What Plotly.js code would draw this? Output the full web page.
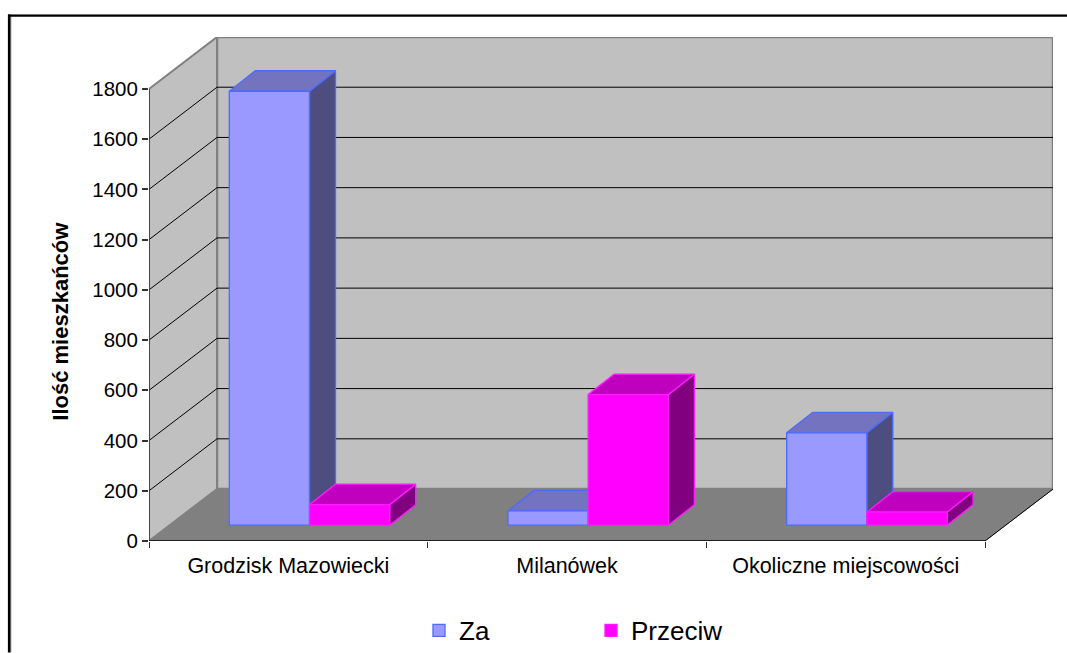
<!DOCTYPE html>
<html>
<head>
<meta charset="utf-8">
<script src="https://cdn.plot.ly/plotly-3.0.1.min.js"></script>
<style>html,body{margin:0;padding:0;background:#fff;overflow:hidden}</style>
</head>
<body>
<div id="chart" style="width:1067px;height:653px"></div>
<script>
// Poll results per area
const categories = ['Grodzisk Mazowiecki', 'Milanówek', 'Okoliczne miejscowości'];
const zaValues = [1728, 57, 368];
const przeciwValues = [82, 520, 52];
const yTicks = [0, 200, 400, 600, 800, 1000, 1200, 1400, 1600, 1800];

// Chart geometry
const W = 1067, H = 653;
const plot = {l: 149, r: 1053, t: 37, b: 541.5};
const pxPerCat = 278.67, pxPerUnit = 0.2514;
const xMax = (plot.r - plot.l) / pxPerCat;
const yMax = (plot.b - plot.t) / pxPerUnit;

// Perspective offsets expressed in axis units
const wallDX = 68 / pxPerCat, wallDY = 52 / pxPerUnit;
const barDX = 26 / pxPerCat, barDY = 20.5 / pxPerUnit;
const inX = 20.6 / pxPerCat, baseY = 15.8 / pxPerUnit;
const gap = 59.7 / pxPerCat, barW = 80.2 / pxPerCat;

const nCat = categories.length;
const topTick = yTicks[yTicks.length - 1];

function poly(points, fill, line, width, z) {
  return {
    type: 'scatter', mode: 'lines', fill: 'toself', fillcolor: fill,
    x: points.map(p => p && p[0]), y: points.map(p => p && p[1]),
    line: {color: line, width: width}, showlegend: false,
    hoverinfo: 'skip', cliponaxis: false, zorder: z
  };
}
function seg(xs, ys, color, width, z) {
  return {
    type: 'scatter', mode: 'lines', x: xs, y: ys,
    line: {color: color, width: width}, showlegend: false,
    hoverinfo: 'skip', cliponaxis: false, zorder: z
  };
}

const traces = [];

// Back wall, side wall and floor
traces.push(poly([[wallDX, wallDY], [nCat + wallDX, wallDY], [nCat + wallDX, topTick + wallDY], [wallDX, topTick + wallDY], [wallDX, wallDY]], '#C0C0C0', '#808080', 2.5, 0));
traces.push(poly([[0, 0], [wallDX, wallDY], [wallDX, topTick + wallDY], [0, topTick], [0, 0]], '#C0C0C0', '#808080', 2, 0));

// Gridlines run along the side wall and across the back wall
yTicks.slice(1, -1).forEach(v => {
  traces.push(seg([0, wallDX, nCat + wallDX], [v, v + wallDY, v + wallDY], '#000000', 1, 0));
});
traces.push(poly([[0, 0], [wallDX, wallDY], [nCat + wallDX, wallDY], [nCat, 0], [0, 0]], '#808080', '#808080', 1, 0));
traces.push(seg([nCat, nCat + wallDX], [0, wallDY], '#000000', 1, 0));
// Axis lines
traces.push(seg([0, 0], [0, topTick], '#333333', 1.5, 0));
traces.push(seg([0, nCat], [0, 0], '#000000', 1.5, 0));

// One extruded series: side and top faces, then the front bar
function series(name, values, centerOffset, front, edge, side, top, z) {
  const sides = [], tops = [], centers = [];
  values.forEach((v, i) => {
    const c = i + centerOffset;
    centers.push(c);
    const L = c - barW / 2, R = c + barW / 2, T = baseY + v;
    sides.push([R, baseY], [R + barDX, baseY + barDY], [R + barDX, T + barDY], [R, T], [R, baseY], null);
    tops.push([L, T], [L + barDX, T + barDY], [R + barDX, T + barDY], [R, T], [L, T], null);
  });
  traces.push(poly(sides, side, edge, 1.3, z));
  traces.push(poly(tops, top, edge, 1.3, z));
  traces.push({
    type: 'bar', name: name, x: centers, y: values,
    base: values.map(() => baseY), width: values.map(() => barW),
    marker: {color: front, line: {color: edge, width: 1.3}},
    hoverinfo: 'x+y', zorder: z + 1
  });
}
series('Za', zaValues, inX + gap + barW / 2, '#9999FF', '#4D6BFF', '#4D4D80', '#7373BF', 1);
series('Przeciw', przeciwValues, inX + gap + barW * 1.5, '#FF00FF', '#FF1AFF', '#800080', '#BF00BF', 3);

const pw = plot.r - plot.l, ph = plot.b - plot.t;
const px = x => (x - plot.l) / pw;
const py = y => (plot.b - y) / ph;

const layout = {
  width: W, height: H,
  margin: {l: plot.l, r: W - plot.r, t: plot.t, b: H - plot.b, pad: 0, autoexpand: false},
  paper_bgcolor: '#FFFFFF', plot_bgcolor: 'rgba(0,0,0,0)',
  barmode: 'overlay',
  font: {family: 'Liberation Sans, Arial, sans-serif', color: '#000000'},
  xaxis: {
    range: [0, xMax], showgrid: false, zeroline: false, showline: false,
    tickmode: 'array', tickvals: categories.map((_, i) => i + 0.5), ticktext: categories,
    ticks: '', tickfont: {size: 21.5}, tickangle: 0, ticklabelstandoff: 9,
    minor: {ticks: 'outside', ticklen: 6, tickwidth: 1, tickcolor: '#333333',
            tickmode: 'array', tickvals: [0, 1, 2, 3], showgrid: false}
  },
  yaxis: {
    range: [0, yMax], showgrid: false, zeroline: false, showline: false,
    tickmode: 'array', tickvals: yTicks, ticktext: yTicks.map(String),
    ticks: 'outside', ticklen: 6, tickwidth: 1.5, tickcolor: '#333333', tickfont: {size: 20.5}
  },
  showlegend: true,
  legend: {
    orientation: 'h', x: px(419), y: py(631), xanchor: 'left', yanchor: 'middle',
    font: {size: 26}, entrywidth: 127, entrywidthmode: 'pixels', traceorder: 'normal',
    bgcolor: 'rgba(0,0,0,0)', borderwidth: 0
  },
  annotations: [{
    text: '<b>Ilość mieszkańców</b>', xref: 'paper', yref: 'paper',
    x: px(61), y: py(322), xanchor: 'center', yanchor: 'middle',
    textangle: -90, showarrow: false, font: {size: 22}
  }],
  shapes: [
    {type: 'line', xref: 'paper', yref: 'paper', x0: px(10.9), x1: px(10.9), y0: py(16), y1: py(653), line: {color: '#999999', width: 1}},
    {type: 'line', xref: 'paper', yref: 'paper', x0: px(8), x1: px(1067), y0: py(14.5), y1: py(14.5), line: {color: '#999999', width: 1}},
    {type: 'line', xref: 'paper', yref: 'paper', x0: px(9.2), x1: px(9.2), y0: py(14.5), y1: py(653), line: {color: '#000000', width: 2.6}},
    {type: 'line', xref: 'paper', yref: 'paper', x0: px(8), x1: px(1067), y0: py(15.8), y1: py(15.8), line: {color: '#000000', width: 2}}
  ]
};

Plotly.newPlot('chart', traces, layout, {displayModeBar: false, responsive: false});
</script>
</body>
</html>
